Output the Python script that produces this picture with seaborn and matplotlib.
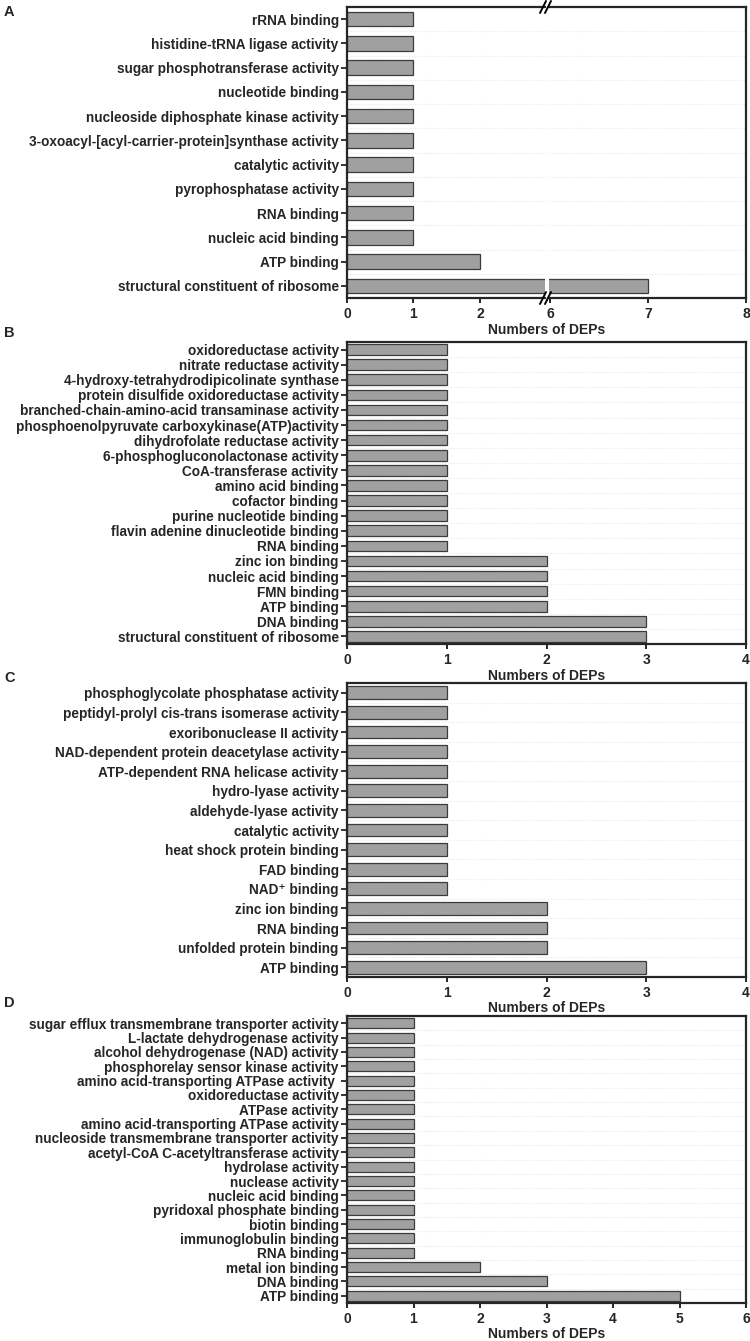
import matplotlib
matplotlib.use("Agg")
import matplotlib.pyplot as plt
import pandas as pd
import seaborn as sns
from matplotlib.lines import Line2D

# panel A
a_terms = [
    "rRNA binding",
    "histidine-tRNA ligase activity",
    "sugar phosphotransferase activity",
    "nucleotide binding",
    "nucleoside diphosphate kinase activity",
    "3-oxoacyl-[acyl-carrier-protein]synthase activity",
    "catalytic activity",
    "pyrophosphatase activity",
    "RNA binding",
    "nucleic acid binding",
    "ATP binding",
    "structural constituent of ribosome",
]
a_counts = [1, 1, 1, 1, 1, 1, 1, 1, 1, 1, 2, 7]

# panel B
b_terms = [
    "oxidoreductase activity",
    "nitrate reductase activity",
    "4-hydroxy-tetrahydrodipicolinate synthase",
    "protein disulfide oxidoreductase activity",
    "branched-chain-amino-acid transaminase activity",
    "phosphoenolpyruvate carboxykinase(ATP)activity",
    "dihydrofolate reductase activity",
    "6-phosphogluconolactonase activity",
    "CoA-transferase activity",
    "amino acid binding",
    "cofactor binding",
    "purine nucleotide binding",
    "flavin adenine dinucleotide binding",
    "RNA binding",
    "zinc ion binding",
    "nucleic acid binding",
    "FMN binding",
    "ATP binding",
    "DNA binding",
    "structural constituent of ribosome",
]
b_counts = [1, 1, 1, 1, 1, 1, 1, 1, 1, 1, 1, 1, 1, 1, 2, 2, 2, 2, 3, 3]

# panel C
c_terms = [
    "phosphoglycolate phosphatase activity",
    "peptidyl-prolyl cis-trans isomerase activity",
    "exoribonuclease II activity",
    "NAD-dependent protein deacetylase activity",
    "ATP-dependent RNA helicase activity",
    "hydro-lyase activity",
    "aldehyde-lyase activity",
    "catalytic activity",
    "heat shock protein binding",
    "FAD binding",
    "NAD\u207a binding",
    "zinc ion binding",
    "RNA binding",
    "unfolded protein binding",
    "ATP binding",
]
c_counts = [1, 1, 1, 1, 1, 1, 1, 1, 1, 1, 1, 2, 2, 2, 3]

# panel D (the ATPase term appears twice in the source figure)
d_terms = [
    "sugar efflux transmembrane transporter activity",
    "L-lactate dehydrogenase activity",
    "alcohol dehydrogenase (NAD) activity",
    "phosphorelay sensor kinase activity",
    "amino acid-transporting ATPase activity ",
    "oxidoreductase activity",
    "ATPase activity",
    "amino acid-transporting ATPase activity",
    "nucleoside transmembrane transporter activity",
    "acetyl-CoA C-acetyltransferase activity",
    "hydrolase activity",
    "nuclease activity",
    "nucleic acid binding",
    "pyridoxal phosphate binding",
    "biotin binding",
    "immunoglobulin binding",
    "RNA binding",
    "metal ion binding",
    "DNA binding",
    "ATP binding",
]
d_counts = [1, 1, 1, 1, 1, 1, 1, 1, 1, 1, 1, 1, 1, 1, 1, 1, 1, 2, 3, 5]

BAR_COLOR = "#a0a0a0"
EDGE_COLOR = "#3c3c3c"
W, H = 750, 1341
FS = 9.8

sns.set_style("ticks")
plt.rcParams["font.family"] = ["Liberation Sans", "DejaVu Sans"]
plt.rcParams["font.weight"] = "bold"

fig = plt.figure(figsize=(W / 100, H / 100), dpi=100)


def px_axes(x0, x1, y0, y1):
    # pixel box (top-left origin) -> figure axes
    return fig.add_axes([x0 / W, 1 - y1 / H, (x1 - x0) / W, (y1 - y0) / H])


def draw_bars(ax, terms, counts, width):
    df = pd.DataFrame({"term": terms, "count": counts})
    sns.barplot(
        data=df, x="count", y="term", orient="h", order=terms,
        color=BAR_COLOR, saturation=1, width=width,
        edgecolor=EDGE_COLOR, linewidth=0.9, ax=ax,
    )
    n = len(terms)
    ax.set_ylim(n - 0.5, -0.5)
    ax.set_yticks([i + 0.5 for i in range(n - 1)], minor=True)
    ax.grid(True, axis="y", which="minor", color="#e6e6e6", linestyle=":", linewidth=0.8)
    ax.grid(False, axis="y", which="major")
    ax.set_axisbelow(True)
    ax.set_ylabel("")
    ax.set_xlabel("")
    ax.tick_params(axis="y", which="minor", length=0)
    ax.tick_params(axis="y", which="major", length=4, width=1.3, labelsize=FS, pad=2)
    ax.tick_params(axis="x", length=3.5, width=1.4, labelsize=10, pad=3)
    for lab in ax.get_yticklabels() + ax.get_xticklabels():
        lab.set_fontweight("bold")
    for sp in ax.spines.values():
        sp.set_linewidth(1.6)
        sp.set_visible(True)


def xlabel_at(y):
    fig.text(547 / W, 1 - y / H, "Numbers of DEPs", ha="center", va="center",
             fontsize=10, fontweight="bold")


def letter(y, s):
    fig.text(4 / W, 1 - y / H, s, ha="left", va="center", fontsize=10.5, fontweight="bold")


# ---- panel A with broken x axis ----
ax_a1 = px_axes(347, 545, 7, 298)
ax_a2 = px_axes(549, 746, 7, 298)
draw_bars(ax_a1, a_terms, a_counts, 0.6)
draw_bars(ax_a2, a_terms, a_counts, 0.6)
ax_a1.set_xlim(0, 2.98)
ax_a1.set_xticks([0, 1, 2])
ax_a2.set_xlim(5.99, 8)
ax_a2.set_xticks([6, 7, 8])
ax_a1.spines["right"].set_visible(False)
ax_a2.spines["left"].set_visible(False)
ax_a2.tick_params(axis="y", which="both", left=False, labelleft=False)

# break marks
for yb in (7, 298):
    for x0 in (540, 545):
        fig.add_artist(Line2D([x0 / W, (x0 + 6) / W], [1 - (yb + 6) / H, 1 - (yb - 6) / H],
                              color="black", linewidth=1.4, transform=fig.transFigure))
xlabel_at(330)
letter(12, "A")

# ---- panel B ----
ax_b = px_axes(347, 746, 342, 644)
draw_bars(ax_b, b_terms, b_counts, 0.7)
ax_b.set_xlim(0, 4)
ax_b.set_xticks([0, 1, 2, 3, 4])
xlabel_at(676)
letter(333, "B")

# ---- panel C ----
ax_c = px_axes(347, 746, 683, 977)
draw_bars(ax_c, c_terms, c_counts, 0.65)
ax_c.set_xlim(0, 4)
ax_c.set_xticks([0, 1, 2, 3, 4])
xlabel_at(1008)
letter(678, "C")

# ---- panel D ----
ax_d = px_axes(347, 746, 1016, 1303)
draw_bars(ax_d, d_terms, d_counts, 0.7)
ax_d.set_xlim(0, 6)
ax_d.set_xticks([0, 1, 2, 3, 4, 5, 6])
xlabel_at(1334)
letter(1003, "D")

fig.savefig("out.png", dpi=100)
plt.close(fig)
